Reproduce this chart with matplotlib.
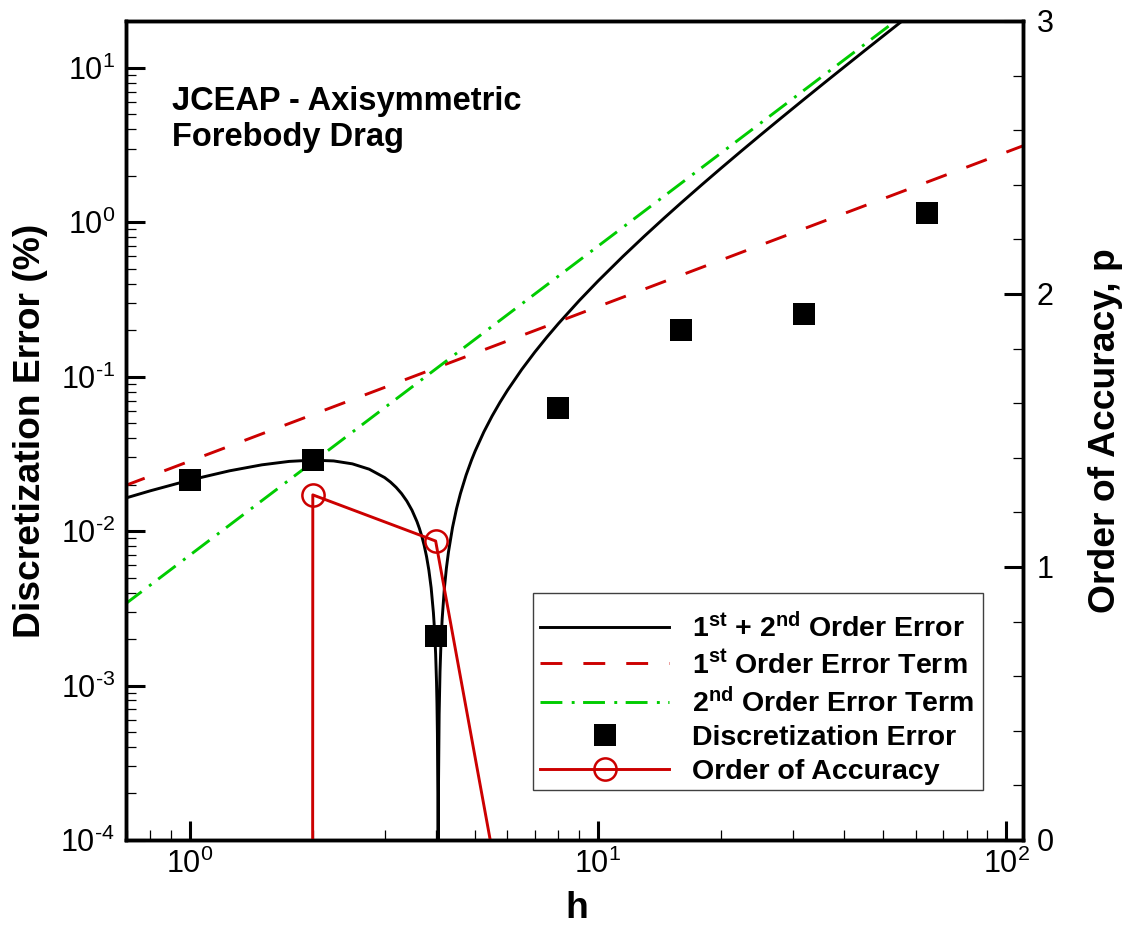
import matplotlib
matplotlib.use('Agg')
import matplotlib.pyplot as plt
from matplotlib.patches import Rectangle
from matplotlib.ticker import LogLocator, MultipleLocator, NullFormatter, FuncFormatter
import numpy as np

plt.rcParams['font.family'] = ['Liberation Sans', 'DejaVu Sans']
plt.rcParams['mathtext.fontset'] = 'custom'
plt.rcParams['mathtext.rm'] = 'Liberation Sans'
plt.rcParams['mathtext.bf'] = 'Liberation Sans:bold'
plt.rcParams['mathtext.default'] = 'regular'

####### data ##################################
# discretization error (%) vs grid spacing h
h_data = [1, 2, 4, 8, 16, 32, 64]
err_data = [0.0214, 0.0288, 0.00209, 0.0625, 0.200, 0.254, 1.14]

# observed order of accuracy (right axis); first entry is far below the axis
h_order = [1, 2, 4, 8]
p_order = [-1000, 1.264, 1.095, -1.37]

# 1st order error term (straight line in log-log)
h_first = [0.69, 112]
err_first = [0.0196, 3.18]

# 2nd order error term
h_second = [0.69, 60]
err_second = [0.00333, 25.2]

# 1st + 2nd order error curve
h_fit = [0.69, 0.8, 1.0, 1.25, 1.5, 1.75, 2.0, 2.25, 2.5, 2.75,
         3.0, 3.1, 3.2, 3.3, 3.4, 3.5, 3.6, 3.65, 3.7, 3.75, 3.8, 3.85, 3.9,
         3.95, 3.975, 4.0, 4.02, 4.03, 4.04, 4.05, 4.057, 4.065, 4.08, 4.1,
         4.12, 4.15, 4.2, 4.25, 4.3, 4.4, 4.5, 4.6, 4.75, 4.9, 5.0, 5.25,
         5.5, 5.75, 6.0, 6.5, 7.0, 7.5, 8.0, 9, 10, 11.5, 13, 14.5, 16, 18,
         20, 22.5, 25, 28, 32, 36, 40, 45, 50, 55, 60]
err_fit = [0.01626, 0.01824, 0.0214, 0.02456, 0.02685, 0.02826, 0.0288,
           0.02846, 0.02725, 0.02516,
           0.0222, 0.02077, 0.0192, 0.01749, 0.01564, 0.01365, 0.01152,
           0.0104, 0.00925, 0.00806, 0.00684, 0.00558, 0.00429,
           0.00296, 0.00229, 0.0016, 0.00105, 0.000766, 0.00049, 0.0002,
           0.000001, 0.000225, 0.000653, 0.00123,
           0.001813, 0.0027, 0.0042, 0.00574, 0.00731, 0.01056, 0.01395,
           0.01748, 0.02304, 0.02891, 0.033, 0.04384,
           0.05555, 0.06814, 0.0816, 0.11115, 0.1442, 0.18075, 0.2208,
           0.3114, 0.416, 0.59915, 0.8138, 1.05995, 1.3376, 1.7568,
           2.232, 2.90475, 3.665, 4.6928, 6.259, 8.0496, 10.06, 12.897,
           16.08, 19.613, 23.5]

labels = [r'1$^{st}$ + 2$^{nd}$ Order Error',
          r'1$^{st}$ Order Error Term',
          r'2$^{nd}$ Order Error Term',
          'Discretization Error',
          'Order of Accuracy']

red = '#CC0000'
green = '#00CC00'
lw = 2.1


def pow10(v, pos):
    # tecplot style labels with a plain hyphen for negative exponents
    e = int(round(np.log10(v)))
    if e < 0:
        return r'$\mathdefault{10^{\text{-}%d}}$' % (-e)
    return r'$\mathdefault{10^{%d}}$' % e


fig = plt.figure(figsize=(11.25, 9.27), dpi=100)
ax = fig.add_axes([0.112, 0.0939, 0.7973, 0.8835])
ax.set_xscale('log')
ax.set_yscale('log')
ax.set_xlim(0.697, 110)
ax.set_ylim(1e-4, 20.1)

l1, = ax.plot(h_fit, err_fit, color='black', lw=lw)
l2, = ax.plot(h_first, err_first, color=red, lw=lw, ls=(0, (7.5, 7.2)))
l3, = ax.plot(h_second, err_second, color=green, lw=lw,
              ls=(0, (7.5, 3.2, 1.0, 2.9)))
l4, = ax.plot(h_data, err_data, ls='none', marker='s', ms=15.8,
              color='black', mew=0)

ax2 = ax.twinx()
ax2.set_ylim(0, 3)
l5, = ax2.plot(h_order, p_order, color=red, lw=lw, marker='o', ms=16,
               mfc='none', mec=red, mew=1.8)

# axes styling
for a in (ax, ax2):
    for s in a.spines.values():
        s.set_linewidth(2.5)

ax.xaxis.set_major_locator(LogLocator(base=10, numticks=20))
ax.xaxis.set_minor_locator(LogLocator(base=10, subs=np.arange(2, 10), numticks=100))
ax.yaxis.set_major_locator(LogLocator(base=10, numticks=20))
ax.yaxis.set_minor_locator(LogLocator(base=10, subs=np.arange(2, 10), numticks=100))
ax.xaxis.set_major_formatter(FuncFormatter(pow10))
ax.yaxis.set_major_formatter(FuncFormatter(pow10))
ax.xaxis.set_minor_formatter(NullFormatter())
ax.yaxis.set_minor_formatter(NullFormatter())
ax.tick_params(which='major', direction='in', length=14, width=2.2,
               labelsize=22, top=False, right=False)
ax.tick_params(which='minor', direction='in', length=7.5, width=0.9,
               top=False, right=False)
ax.tick_params(axis='y', which='major', pad=8)
ax.tick_params(axis='x', which='major', pad=6)

ax2.yaxis.set_major_locator(MultipleLocator(1))
ax2.yaxis.set_minor_locator(MultipleLocator(0.2))
ax2.tick_params(which='major', direction='in', length=14, width=2.2,
                labelsize=22, pad=10)
ax2.tick_params(which='minor', direction='in', length=7.5, width=0.9)

ax.set_xlabel('h', fontsize=26.8, fontweight='bold')
ax.set_ylabel('Discretization Error (%)', fontsize=26.8, fontweight='bold')
ax2.set_ylabel('Order of Accuracy, p', fontsize=26.8, fontweight='bold')
ax.xaxis.set_label_coords(0.503, -0.062)
ax.yaxis.set_label_coords(-0.087, 0.5)
ax2.yaxis.set_label_coords(1.0725, 0.5)

ax.text(0.0513, 0.9206, 'JCEAP - Axisymmetric\nForebody Drag',
        transform=ax.transAxes, fontsize=23.5, fontweight='bold',
        va='top', ha='left')

# legend frame drawn by hand so the padding can match the original box
ax2.add_patch(Rectangle((0.4537, 0.0611), 0.5017, 0.2405,
                        transform=ax2.transAxes, facecolor='white',
                        edgecolor='#404040', lw=1.0, zorder=4))
leg = ax2.legend([l1, l2, l3, l4, l5], labels, loc='upper left',
                 bbox_to_anchor=(0.4615, 0.2772), borderaxespad=0,
                 prop={'weight': 'bold', 'size': 20.5}, handlelength=4.55,
                 handletextpad=0.8, labelspacing=0.27, borderpad=0,
                 frameon=False)
leg.set_zorder(5)

plt.savefig('out.png', dpi=100)
